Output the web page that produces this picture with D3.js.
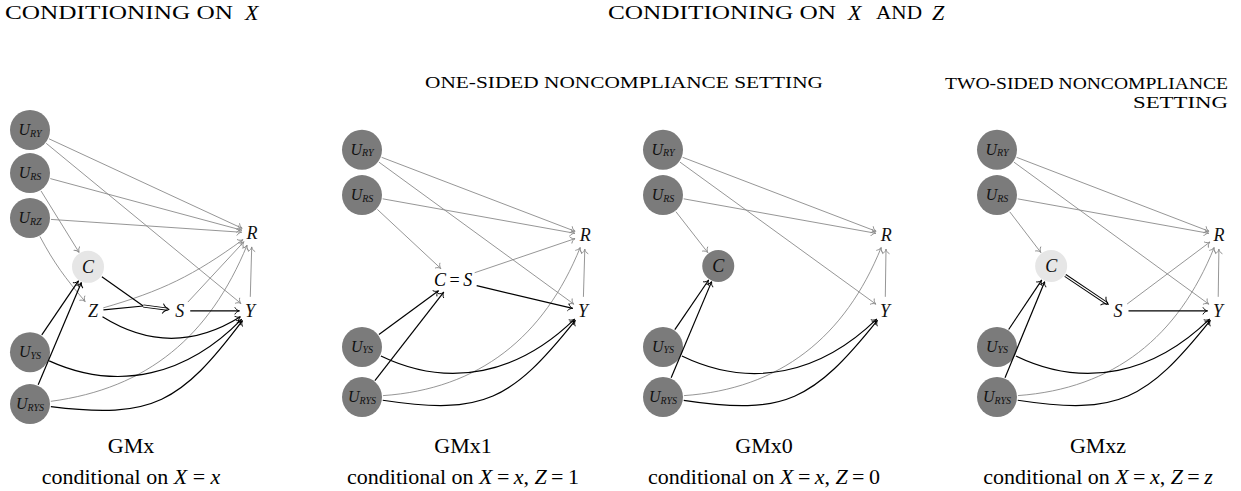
<!DOCTYPE html>
<html>
<head>
<meta charset="utf-8">
<script src="https://cdn.jsdelivr.net/npm/d3@7"></script>
<style>
  body { margin: 0; background: #fff; }
  svg { display: block; font-family: "Liberation Serif", "Times New Roman", serif; }
  text { white-space: pre; }
</style>
</head>
<body>
<svg id="chart" width="1241" height="491"></svg>
<script>
// ---- data ----
var panelNames = ["GMx", "GMx1", "GMx0", "GMxz"];

// caption pieces: [text, italic]
var captions = [
  [["conditional on ", 0], ["X", 1], [" = ", 0], ["x", 1]],
  [["conditional on ", 0], ["X", 1], ["\u2009=\u2009", 0], ["x", 1], [", ", 0], ["Z", 1], ["\u2009=\u20091", 0]],
  [["conditional on ", 0], ["X", 1], ["\u2009=\u2009", 0], ["x", 1], [", ", 0], ["Z", 1], ["\u2009=\u20090", 0]],
  [["conditional on ", 0], ["X", 1], ["\u2009=\u2009", 0], ["x", 1], [", ", 0], ["Z", 1], ["\u2009=\u2009", 0], ["z", 1]]
];

// nodes: [id, column, row, kind]   (J = junction where C and Z meet before S)
var nodes1 = [
  ["URY", 0, 0, "u"], ["URS", 0, 0.98, "u"], ["URZ", 0, 2.0, "u"],
  ["C", 1.05, 3.11, "light"], ["Z", 1.14, 4.11, "text"], ["S", 2.71, 4.11, "text"],
  ["J", 2.05, 4.0, "point"],
  ["R", 4.02, 2.34, "text"], ["Y", 3.98, 4.11, "text"],
  ["UYS", 0, 5.05, "u"], ["URYS", 0, 6.23, "u"]
];
var nodes2 = [
  ["URY", 0, 0.45, "u"], ["URS", 0, 1.48, "u"],
  ["CS", 1.65, 3.41, "wide"],
  ["R", 4.04, 2.39, "text"], ["Y", 4.0, 4.11, "text"],
  ["UYS", 0, 4.93, "u"], ["URYS", 0, 6.07, "u"]
];
var nodes3 = [
  ["URY", 0, 0.45, "u"], ["URS", 0, 1.48, "u"],
  ["C", 1.0, 3.09, "dark"],
  ["R", 4.04, 2.39, "text"], ["Y", 4.02, 4.11, "text"],
  ["UYS", 0, 4.93, "u"], ["URYS", 0, 6.07, "u"]
];
var nodes4 = [
  ["URY", 0, 0.45, "u"], ["URS", 0, 1.48, "u"],
  ["C", 0.98, 3.09, "light"], ["S", 2.19, 4.11, "text"],
  ["R", 4.02, 2.39, "text"], ["Y", 4.0, 4.11, "text"],
  ["UYS", 0, 4.93, "u"], ["URYS", 0, 6.07, "u"]
];

// edges: [from, to, colour, bend in degrees, looseness]
// g = grey, k = black, k2 = black double line, kn = black without head
var edges1 = [
  ["URY", "R", "g", 0], ["URY", "Y", "g", 0], ["URS", "R", "g", 0], ["URS", "C", "g", 0],
  ["URZ", "R", "g", 0], ["URZ", "Z", "g", 6], ["Z", "R", "g", 10], ["S", "R", "g", 0],
  ["URYS", "R", "g", 30], ["Y", "R", "g", 0],
  ["Z", "J", "kn", 0], ["C", "J", "kn", 0], ["J", "S", "k2", 0], ["S", "Y", "k", 0], ["Z", "Y", "k", 32],
  ["UYS", "C", "k", 0], ["URYS", "C", "k", 0], ["UYS", "Y", "k", 35], ["URYS", "Y", "k", 30, 1.25]
];
var edges2 = [
  ["URY", "R", "g", 0], ["URY", "Y", "g", 0], ["URS", "R", "g", 0], ["URS", "CS", "g", 0],
  ["CS", "R", "g", 0], ["URYS", "R", "g", 32], ["Y", "R", "g", 0],
  ["CS", "Y", "k", 0], ["UYS", "CS", "k", 0], ["URYS", "CS", "k", 0],
  ["UYS", "Y", "k", 35], ["URYS", "Y", "k", 30, 1.25]
];
var edges3 = [
  ["URY", "R", "g", 0], ["URY", "Y", "g", 0], ["URS", "R", "g", 0], ["URS", "C", "g", 0],
  ["URYS", "R", "g", 32], ["Y", "R", "g", 0],
  ["UYS", "C", "k", 0], ["URYS", "C", "k", 0],
  ["UYS", "Y", "k", 35], ["URYS", "Y", "k", 30, 1.25]
];
var edges4 = [
  ["URY", "R", "g", 0], ["URY", "Y", "g", 0], ["URS", "R", "g", 0], ["URS", "C", "g", 0],
  ["S", "R", "g", 0], ["URYS", "R", "g", 32], ["Y", "R", "g", 0],
  ["C", "S", "k2", 0], ["S", "Y", "k", 0], ["UYS", "C", "k", 0], ["URYS", "C", "k", 0],
  ["UYS", "Y", "k", 35], ["URYS", "Y", "k", 30, 1.25]
];

var panelNodes = [nodes1, nodes2, nodes3, nodes4];
var panelEdges = [edges1, edges2, edges3, edges4];

// ---- layout ----
var panelX = [30, 362, 663, 997];
var xs = d3.scaleLinear().domain([0, 4]).range([0, 221]);
var ys = d3.scaleLinear().domain([0, 1]).range([130, 174]);

var grey = "#8a8a8a", dark = "#7b7b7b", light = "#e6e6e6";
var kinds = {
  u: { r: 20, rx: 21, ry: 21, fill: dark },
  light: { r: 16, rx: 17, ry: 17, fill: light },
  dark: { r: 16, rx: 17, ry: 17, fill: dark },
  text: { r: 0, rx: 10.5, ry: 14 },
  wide: { r: 0, rx: 26, ry: 13 },
  point: { r: 0, rx: 0.01, ry: 0.01 }
};
var subs = { URY: "RY", URS: "RS", URZ: "RZ", UYS: "YS", URYS: "RYS" };

var svg = d3.select("#chart");

function boundary(n, ux, uy) {
  var k = kinds[n.kind];
  return 1 / Math.sqrt((ux / k.rx) * (ux / k.rx) + (uy / k.ry) * (uy / k.ry));
}

function arrowHead(g, x, y, ang, col, big) {
  var d = big ? "M-6.5,-5 C-5,-2 -2.2,-0.5 0,0 C-2.2,0.5 -5,2 -6.5,5"
              : "M-4.6,-3.6 C-3.6,-1.4 -1.6,-0.35 0,0 C-1.6,0.35 -3.6,1.4 -4.6,3.6";
  g.append("path").attr("d", d)
    .attr("transform", "translate(" + x + "," + y + ") rotate(" + (ang * 180 / Math.PI) + ")")
    .attr("fill", "none").attr("stroke", col).attr("stroke-width", big ? 1 : 0.9);
}

function drawEdge(g, a, b, col, bendDeg, loose) {
  var dx = b.x - a.x, dy = b.y - a.y, d = Math.hypot(dx, dy);
  var ux = dx / d, uy = dy / d, nx = -uy, ny = ux;
  var th = bendDeg * Math.PI / 180, c = Math.cos(th), s = Math.sin(th);
  var t0x = c * ux + s * nx, t0y = c * uy + s * ny;
  var t1x = c * ux - s * nx, t1y = c * uy - s * ny;
  var r0 = boundary(a, t0x, t0y), r1 = boundary(b, t1x, t1y);
  var p0 = [a.x + t0x * r0, a.y + t0y * r0];
  var p3 = [b.x - t1x * r1, b.y - t1y * r1];
  var L = Math.hypot(p3[0] - p0[0], p3[1] - p0[1]) * 0.3915 * (loose || 1);
  var colour = col === "g" ? grey : "#000";

  function build(cut) {
    var e = [p3[0] - t1x * cut, p3[1] - t1y * cut];
    var p = d3.path();
    p.moveTo(p0[0], p0[1]);
    if (bendDeg === 0) p.lineTo(e[0], e[1]);
    else p.bezierCurveTo(p0[0] + L * t0x, p0[1] + L * t0y, p3[0] - L * t1x, p3[1] - L * t1y, e[0], e[1]);
    return p.toString();
  }

  if (col === "k2") {
    g.append("path").attr("d", build(1.5)).attr("fill", "none").attr("stroke", "#000").attr("stroke-width", 3.2);
    g.append("path").attr("d", build(0)).attr("fill", "none").attr("stroke", "#fff").attr("stroke-width", 1.3);
    arrowHead(g, p3[0], p3[1], Math.atan2(t1y, t1x), "#000", true);
  } else {
    g.append("path").attr("d", build(0)).attr("fill", "none")
      .attr("stroke", colour).attr("stroke-width", col === "g" ? 0.9 : 1.2);
    if (col !== "kn") arrowHead(g, p3[0], p3[1], Math.atan2(t1y, t1x), colour, false);
  }
}

panelNodes.forEach(function (list, pi) {
  var g = svg.append("g");
  var byId = {};
  var nodes = list.map(function (r) {
    var n = { id: r[0], x: panelX[pi] + xs(r[1]), y: ys(r[2]), kind: r[3] };
    byId[n.id] = n;
    return n;
  });

  // circles first
  g.selectAll("circle").data(nodes.filter(function (n) { return kinds[n.kind].r > 0; }))
    .enter().append("circle")
    .attr("cx", function (n) { return n.x; })
    .attr("cy", function (n) { return n.y; })
    .attr("r", function (n) { return kinds[n.kind].r; })
    .attr("fill", function (n) { return kinds[n.kind].fill; });

  var eg = g.append("g");
  panelEdges[pi].forEach(function (e) {
    drawEdge(eg, byId[e[0]], byId[e[1]], e[2], e[3], e[4]);
  });

  // labels
  nodes.forEach(function (n) {
    if (n.kind === "point") return;
    if (subs[n.id]) {
      var t = g.append("text").attr("x", n.x).attr("y", n.y + 5)
        .attr("text-anchor", "middle").attr("font-style", "italic").attr("fill", "#111");
      t.append("tspan").attr("font-size", 16).text("U");
      t.append("tspan").attr("font-size", 10).attr("dy", 1.5).text(subs[n.id]);
    } else if (n.id === "CS") {
      var t2 = g.append("text").attr("x", n.x).attr("y", n.y + 6)
        .attr("text-anchor", "middle").attr("font-size", 18);
      t2.append("tspan").attr("font-style", "italic").text("C");
      t2.append("tspan").text("\u2009=\u2009");
      t2.append("tspan").attr("font-style", "italic").text("S");
    } else {
      g.append("text").attr("x", n.x).attr("y", n.y + 6)
        .attr("text-anchor", "middle").attr("font-size", 18).attr("font-style", "italic")
        .attr("fill", "#111").text(n.id);
    }
  });

  // captions
  var cx = panelX[pi] + 101;
  svg.append("text").attr("x", cx).attr("y", 453).attr("text-anchor", "middle")
    .attr("font-size", 22).text(panelNames[pi]);
  var ct = svg.append("text").attr("x", cx).attr("y", 484).attr("text-anchor", "middle")
    .attr("font-size", 22);
  captions[pi].forEach(function (c) {
    ct.append("tspan").attr("font-style", c[1] ? "italic" : "normal").text(c[0]);
  });
});

// ---- headings ----
function smallCaps(x, y, str, len, size, anchor) {
  return svg.append("text").attr("x", x).attr("y", y).attr("font-size", size)
    .attr("text-anchor", anchor || "start")
    .attr("textLength", len).attr("lengthAdjust", "spacingAndGlyphs").text(str);
}
function bigItalic(x, y, str) {
  svg.append("text").attr("x", x).attr("y", y).attr("font-size", 22)
    .attr("font-style", "italic").text(str);
}

smallCaps(5, 19, "CONDITIONING ON", 228, 18.6);
bigItalic(245, 20, "X");

smallCaps(608, 19, "CONDITIONING ON", 228, 18.6);
bigItalic(848, 20, "X");
smallCaps(876, 19, "AND", 46, 18.6);
bigItalic(932, 20, "Z");

smallCaps(425, 88, "ONE-SIDED NONCOMPLIANCE SETTING", 398, 17);
smallCaps(1228, 89, "TWO-SIDED NONCOMPLIANCE", 283, 17, "end");
smallCaps(1228, 108, "SETTING", 95, 17, "end");
</script>
</body>
</html>
